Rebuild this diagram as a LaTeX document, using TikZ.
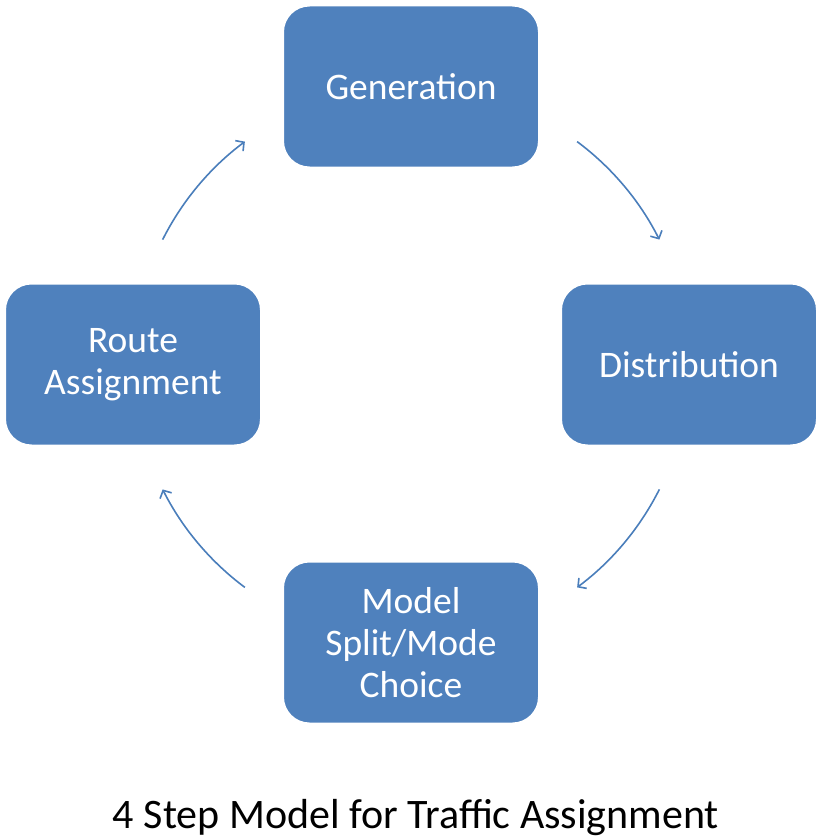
\documentclass[tikz,border=0pt]{standalone}
\usepackage{fontspec}
\setmainfont{Carlito}
\usetikzlibrary{arrows.meta}
\definecolor{boxblue}{HTML}{4F81BD}
\definecolor{arrowblue}{HTML}{4A7EBB}
\tikzset{
  stepbox/.style={draw=white, line width=3pt, fill=boxblue, rounded corners=27pt,
    minimum width=257pt, minimum height=163pt, inner sep=0pt, align=center,
    text=white, font=\fontsize{37.5}{42}\selectfont},
  cyc/.style={draw=arrowblue, line width=1.6pt, -{Straight Barb[length=6pt,width=13pt]}}
}
\begin{document}
\begin{tikzpicture}[x=1pt,y=-1pt]
\useasboundingbox (0,0) rectangle (820,840);
\node[stepbox] (gen) at (411,86.5) {Generation};
\node[stepbox] (dist) at (689,364.5) {Distribution};
\node[stepbox] (route) at (133,364.5) {Route\\Assignment};
\node[stepbox] (mode) at (411,642.5) {Model\\Split/Mode\\Choice};
\coordinate (c) at (411,364.5);
\draw[cyc] (c) ++(53.3:278pt) arc[start angle=53.3, end angle=26.7, radius=278pt];
\draw[cyc] (c) ++(-26.7:278pt) arc[start angle=-26.7, end angle=-53.3, radius=278pt];
\draw[cyc] (c) ++(233.3:278pt) arc[start angle=233.3, end angle=206.7, radius=278pt];
\draw[cyc] (c) ++(153.3:278pt) arc[start angle=153.3, end angle=126.7, radius=278pt];
\node[font=\fontsize{42}{48}\selectfont, text=black] (cap) at (416,818) {4 Step Model for Traffic Assignment};
\end{tikzpicture}
\end{document}
